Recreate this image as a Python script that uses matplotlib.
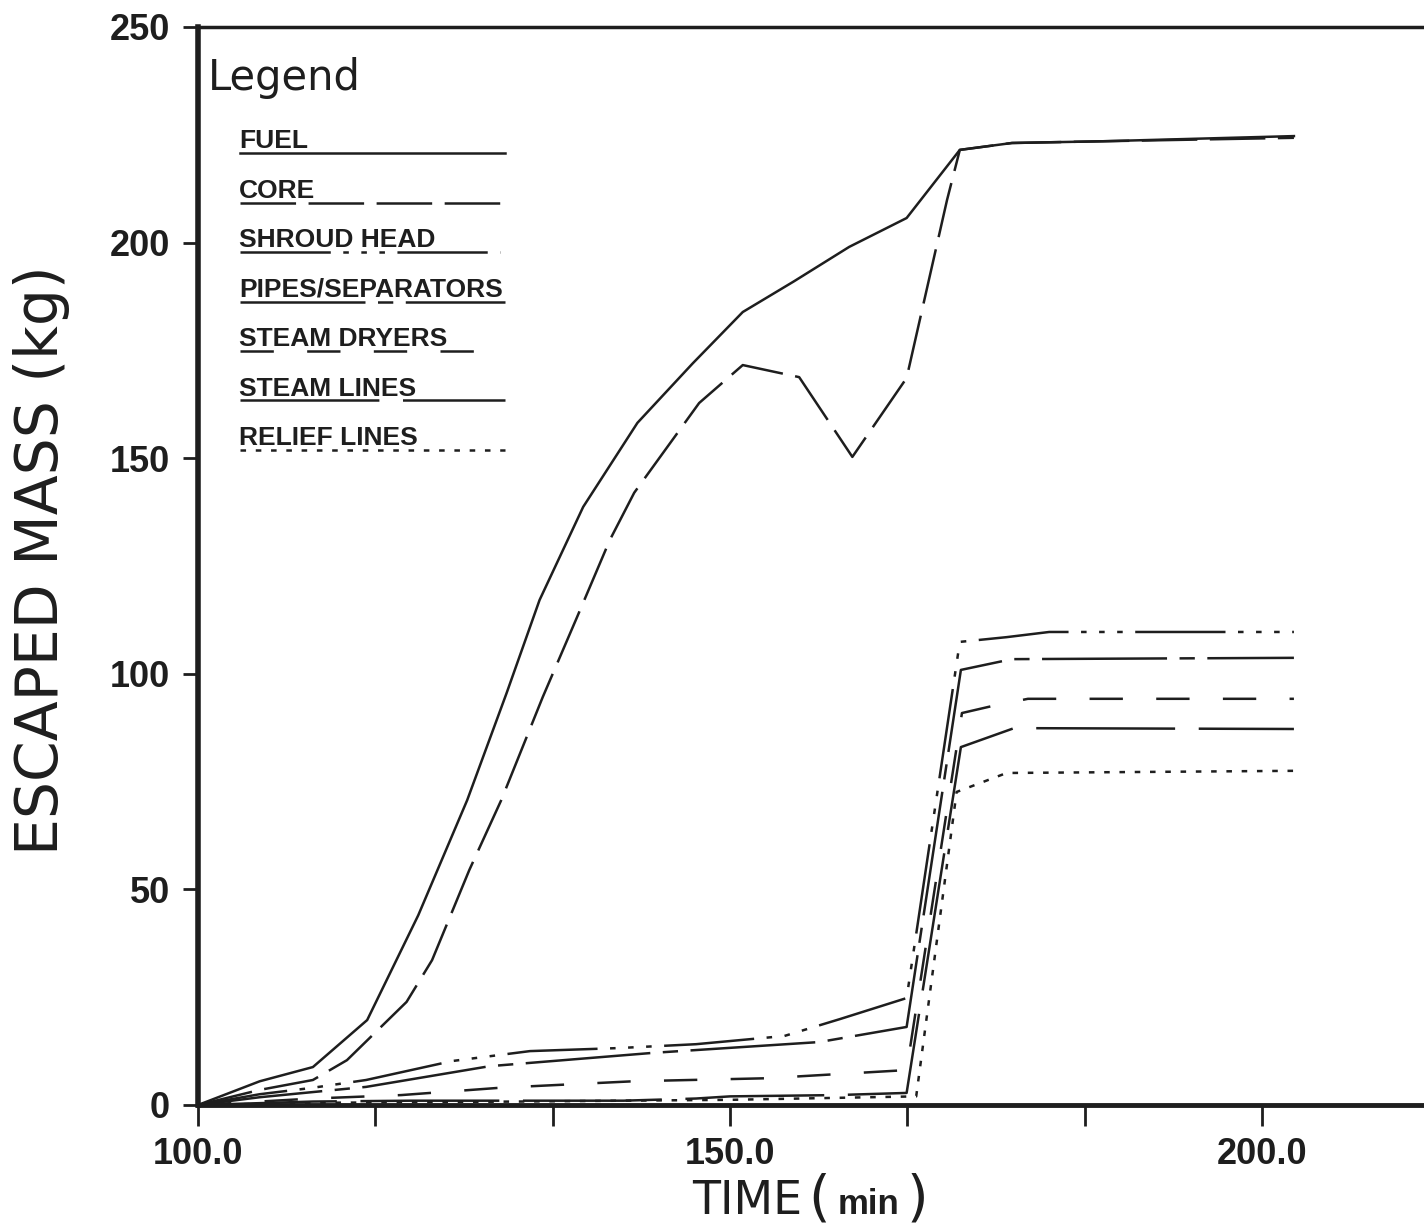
import matplotlib
matplotlib.use("Agg")
import matplotlib.pyplot as plt
from matplotlib.lines import Line2D

# ---- data (time in min, escaped mass in kg) ----
time_fuel = [100, 105.8, 110.8, 115.9, 120.7, 125.3, 129.0, 132.1, 136.2, 141.3,
             146.5, 151.2, 156.0, 161.2, 166.6, 171.6, 176.5, 185.0, 203.0]
fuel = [0, 5.5, 8.8, 19.7, 44.0, 70.7, 95.5, 117.1, 138.7, 158.2,
        172.0, 183.9, 191.0, 199.0, 205.7, 221.5, 223.1, 223.5, 224.7]

time_core = [100, 105.8, 110.8, 114.0, 119.6, 122.0, 125.5, 128.5, 132.4, 135.6,
             138.7, 141.0, 147.1, 151.2, 156.5, 161.5, 166.6, 170.4, 171.6, 176.5,
             185.0, 203.0]
core = [0, 3.5, 5.8, 10.4, 23.9, 33.6, 54.5, 70.7, 94.6, 113.0,
        131.0, 142.0, 162.8, 171.6, 168.8, 150.3, 168.6, 209.9, 221.5, 223.1,
        223.5, 224.3]

time_shroud = [100, 105.8, 110.8, 115.8, 123.9, 131.2, 139.5, 146.8, 155.1, 160.3,
               166.6, 171.6, 176.0, 180.0, 203.0]
shroud = [0, 2.5, 4.0, 5.8, 10.2, 12.5, 13.2, 14.1, 16.0, 19.9,
          24.8, 107.4, 108.5, 109.7, 109.7]

time_pipes = [100, 105.8, 110.8, 115.8, 127.4, 142.8, 158.4, 166.6, 171.7, 176.5, 203.0]
pipes = [0, 1.8, 3.0, 4.2, 9.0, 12.1, 14.6, 18.1, 100.9, 103.4, 103.7]

time_dryers = [100, 110.8, 119.1, 128.4, 140.9, 153.4, 166.6, 171.8, 174.6, 178.0, 203.0]
dryers = [0, 1.5, 2.3, 4.0, 5.5, 6.2, 8.1, 90.9, 92.5, 94.2, 94.2]

time_steam = [100, 110.8, 120, 140, 146.8, 150, 160, 166.6, 171.7, 176.7, 203.0]
steam = [0, 0.8, 1.0, 1.0, 1.5, 2.0, 2.3, 2.8, 83.0, 87.4, 87.2]

time_relief = [100, 110.8, 130, 150, 167.5, 171.3, 176.0, 203.0]
relief = [0, 0.5, 0.8, 1.2, 2.0, 72.6, 77.0, 77.5]

labels = ["FUEL", "CORE", "SHROUD HEAD", "PIPES/SEPARATORS",
          "STEAM DRYERS", "STEAM LINES", "RELIEF LINES"]

x_major = [100, 150, 200]
x_minor = [116.667, 133.333, 166.667, 183.333]
y_ticks = [0, 50, 100, 150, 200, 250]

# ---- styles ----
plt.rcParams["lines.scale_dashes"] = False
INK = "#1e1e1e"
W, H = 1424, 1232

styles = [
    dict(linestyle="-"),
    dict(dashes=(40, 9)),
    dict(dashes=(65, 9, 4, 9, 4, 9, 4, 9)),
    dict(dashes=(90, 9, 11, 9)),
    dict(dashes=(24, 24)),
    dict(dashes=(100, 17)),
    dict(dashes=(4, 7)),
]
series = [(time_fuel, fuel), (time_core, core), (time_shroud, shroud),
          (time_pipes, pipes), (time_dryers, dryers), (time_steam, steam),
          (time_relief, relief)]

fig = plt.figure(figsize=(W / 100, H / 100), dpi=100)
ax = fig.add_axes([198 / W, 127 / H, 1226 / W, 1078 / H])

for (t, m), st in zip(series, styles):
    ax.plot(t, m, color=INK, lw=1.8, **st)

ax.set_xlim(100, 100 + 1226 / 10.64)
ax.set_ylim(0, 250)

ax.spines["right"].set_visible(False)
ax.spines["left"].set_linewidth(4)
ax.spines["bottom"].set_linewidth(3.5)
ax.spines["top"].set_linewidth(2.5)
for s in ax.spines.values():
    s.set_color(INK)

ax.set_xticks(x_major)
ax.set_xticklabels(["100.0", "150.0", "200.0"])
ax.set_xticks(x_minor, minor=True)
ax.set_yticks(y_ticks)
ax.tick_params(axis="x", which="both", direction="out", length=15, width=2,
               color=INK, pad=8)
ax.tick_params(axis="y", direction="out", length=11, width=2, color=INK, pad=9)
for lab in ax.get_xticklabels() + ax.get_yticklabels():
    lab.set_fontfamily("Liberation Sans")
    lab.set_fontweight("bold")
    lab.set_fontsize(26)
    lab.set_color(INK)


def fx(px):
    return px / W


def fy(py):
    return 1 - py / H


# axis titles
fig.text(fx(42), fy(560), "ESCAPED MASS (kg)", rotation=90, ha="center", va="center",
         fontsize=42, family="DejaVu Sans", color=INK)
fig.text(fx(802), fy(1202), "TIME", ha="right", va="center", fontsize=33,
         family="DejaVu Sans", color=INK)
fig.text(fx(808), fy(1200), "(", ha="left", va="center", fontsize=40,
         family="DejaVu Sans", color=INK)
fig.text(fx(869), fy(1204), "min", ha="center", va="center", fontsize=25,
         family="Liberation Sans", weight="bold", color=INK)
fig.text(fx(928), fy(1200), ")", ha="right", va="center", fontsize=40,
         family="DejaVu Sans", color=INK)

# hand-drawn legend block
fig.text(fx(208), fy(78), "Legend", ha="left", va="center", fontsize=30,
         family="DejaVu Sans", color=INK)
line_ends = [505, 505, 500, 505, 475, 505, 505]
for i, (lab, st, x_end) in enumerate(zip(labels, styles, line_ends)):
    y_line = 153 + 49.5 * i
    fig.text(fx(239), fy(y_line - 5), lab, ha="left", va="baseline", fontsize=19,
             family="Liberation Sans", weight="bold", color=INK)
    fig.add_artist(Line2D([fx(240), fx(x_end)], [fy(y_line), fy(y_line)],
                          color=INK, lw=1.8, transform=fig.transFigure, **st))

fig.savefig("out.png", dpi=100, facecolor="white")
